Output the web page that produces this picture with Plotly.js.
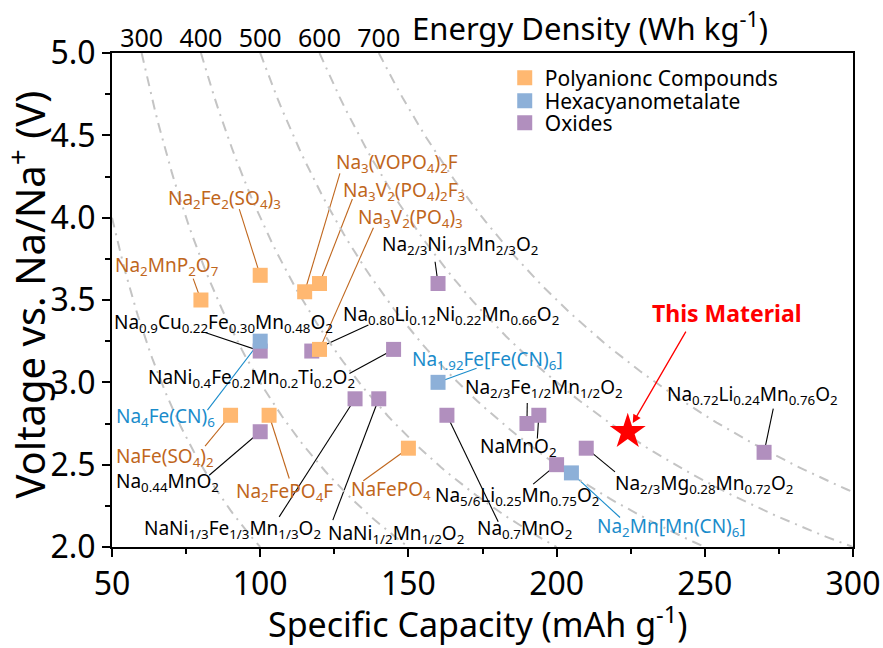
<!DOCTYPE html>
<html>
<head>
<meta charset="utf-8">
<script src="https://cdn.plot.ly/plotly-3.0.1.min.js"></script>
<style>html,body{margin:0;padding:0;background:#fff;}#chart{width:883px;height:648px;}</style>
</head>
<body>
<div id="chart"></div>
<script>
// ---------- data ----------
const energyLevels = [200, 300, 400, 500, 600, 700];           // Wh/kg iso-lines
const energyTickPos = [60, 80, 100, 120, 140];                 // capacity where V = 5.0
const energyTickText = ['300', '400', '500', '600', '700'];

const polyNames = ['Na<sub>2</sub>MnP<sub>2</sub>O<sub>7</sub>', 'Na<sub>2</sub>Fe<sub>2</sub>(SO<sub>4</sub>)<sub>3</sub>',
  'Na<sub>3</sub>(VOPO<sub>4</sub>)<sub>2</sub>F', 'Na<sub>3</sub>V<sub>2</sub>(PO<sub>4</sub>)<sub>2</sub>F<sub>3</sub>',
  'Na<sub>3</sub>V<sub>2</sub>(PO<sub>4</sub>)<sub>3</sub>', 'NaFe(SO<sub>4</sub>)<sub>2</sub>',
  'Na<sub>2</sub>FePO<sub>4</sub>F', 'NaFePO<sub>4</sub>'];
const polyX = [80, 100, 115, 120, 120, 90, 103, 150];
const polyY = [3.5, 3.65, 3.55, 3.6, 3.2, 2.8, 2.8, 2.6];

const hexNames = ['Na<sub>4</sub>Fe(CN)<sub>6</sub>', 'Na<sub>1.92</sub>Fe[Fe(CN)<sub>6</sub>]', 'Na<sub>2</sub>Mn[Mn(CN)<sub>6</sub>]'];
const hexX = [100, 160, 205];
const hexY = [3.25, 3.0, 2.45];

const oxNames = ['Na<sub>2/3</sub>Ni<sub>1/3</sub>Mn<sub>2/3</sub>O<sub>2</sub>',
  'Na<sub>0.9</sub>Cu<sub>0.22</sub>Fe<sub>0.30</sub>Mn<sub>0.48</sub>O<sub>2</sub>',
  'Na<sub>0.80</sub>Li<sub>0.12</sub>Ni<sub>0.22</sub>Mn<sub>0.66</sub>O<sub>2</sub>',
  'NaNi<sub>0.4</sub>Fe<sub>0.2</sub>Mn<sub>0.2</sub>Ti<sub>0.2</sub>O<sub>2</sub>',
  'Na<sub>0.44</sub>MnO<sub>2</sub>',
  'NaNi<sub>1/3</sub>Fe<sub>1/3</sub>Mn<sub>1/3</sub>O<sub>2</sub>',
  'NaNi<sub>1/2</sub>Mn<sub>1/2</sub>O<sub>2</sub>',
  'Na<sub>0.7</sub>MnO<sub>2</sub>',
  'Na<sub>2/3</sub>Fe<sub>1/2</sub>Mn<sub>1/2</sub>O<sub>2</sub>',
  'NaMnO<sub>2</sub>',
  'Na<sub>5/6</sub>Li<sub>0.25</sub>Mn<sub>0.75</sub>O<sub>2</sub>',
  'Na<sub>2/3</sub>Mg<sub>0.28</sub>Mn<sub>0.72</sub>O<sub>2</sub>',
  'Na<sub>0.72</sub>Li<sub>0.24</sub>Mn<sub>0.76</sub>O<sub>2</sub>'];
const oxX = [160, 100, 117.4, 145, 100, 132, 140, 163, 190, 194, 200, 210, 270];
const oxY = [3.6, 3.19, 3.19, 3.2, 2.7, 2.9, 2.9, 2.8, 2.75, 2.8, 2.5, 2.6, 2.575];

const thisX = [224];
const thisY = [2.7];

// ---------- label placement (layout, data units) ----------
const polyLabelX = [68.4, 87.85, 146.05, 148.6, 150.7, 67.9, 108.3, 144.1];
const polyLabelY = [3.706, 4.113, 4.33, 4.163, 3.996, 2.547, 2.335, 2.345];
const polyLeadX  = [77.4, 92.95, 126.9, 131.1, 138.2, 81.4, 109.8, 134.8];
const polyLeadY  = [3.63, 4.052, 4.269, 4.113, 3.939, 2.612, 2.416, 2.402];

const hexLabelX = [68.2, 176.7, 238.7];
const hexLabelY = [2.79, 3.135, 2.122];
const hexLeadX  = [82.2, 173.0, 221.4];
const hexLeadY  = [2.831, 3.085, 2.179];

const oxLabelX = [167.3, 87.45, 164.3, 97.1, 68.6, 90.8, 145.75, 189.1, 195.9, 187.1, 186.8, 249.7, 266.2];
const oxLabelY = [3.834, 3.358, 3.408, 3.024, 2.396, 2.112, 2.082, 2.112, 2.963, 2.608, 2.309, 2.382, 2.922];
const oxLeadX  = [159.0, 81.4, 136.5, 130.1, 82.8, 106.4, 124.5, 180.3, 190.1, 193.5, 192.1, 219.7, 273.1];
const oxLeadY  = [3.732, 3.303, 3.348, 3.054, 2.436, 2.183, 2.163, 2.153, 2.875, 2.659, 2.382, 2.456, 2.841];

const thisLabel = {x: 257.6, y: 3.419, lx: 243.9, ly: 3.317};

// ---------- styles ----------
const FONT = 'Noto Sans, Open Sans, DejaVu Sans, sans-serif';
const C_POLY = '#FFB871', C_HEX = '#8DB0D8', C_OX = '#B18FBE';
const T_POLY = '#C0661C', T_HEX = '#1A8CCB', T_OX = '#000000';
const XMIN = 50, XMAX = 300, YMIN = 2, YMAX = 5;

const traces = [];
// iso energy-density curves V = E / Q
energyLevels.forEach(E => {
  const q0 = Math.max(XMIN, E / YMAX), q1 = Math.min(XMAX, E / YMIN);
  const xs = [], ys = [];
  const n = 80;
  for (let i = 0; i <= n; i++) { const q = q0 + (q1 - q0) * i / n; xs.push(q); ys.push(E / q); }
  traces.push({x: xs, y: ys, type: 'scatter', mode: 'lines', showlegend: false, hoverinfo: 'skip',
    line: {color: '#C4C4C4', width: 2, dash: '10px,6px,2px,6px'}});
});

const mk = (c) => ({symbol: 'square', size: 15, color: c, line: {width: 0}});
traces.push({x: oxX, y: oxY, text: oxNames, type: 'scatter', mode: 'markers', name: 'Oxides', legend: 'legend3', marker: mk(C_OX)});
traces.push({x: polyX, y: polyY, text: polyNames, type: 'scatter', mode: 'markers', name: 'Polyanionc Compounds', legend: 'legend', marker: mk(C_POLY)});
traces.push({x: hexX, y: hexY, text: hexNames, type: 'scatter', mode: 'markers', name: 'Hexacyanometalate', legend: 'legend2', marker: mk(C_HEX)});
traces.push({x: thisX, y: thisY, type: 'scatter', mode: 'markers', name: 'This Material', showlegend: false,
  marker: {symbol: 'star', size: 27, color: '#FF0000', line: {width: 0}}});
// dummy trace for top axis
traces.push({x: [XMIN], y: [YMIN], xaxis: 'x2', type: 'scatter', mode: 'markers', showlegend: false, hoverinfo: 'skip', marker: {opacity: 0}});

const annotations = [], shapes = [];
function addLabels(names, xs, ys, lx, ly, tx, ty, tcol, lcol) {
  names.forEach((nm, i) => {
    annotations.push({x: tx[i], y: ty[i], xref: 'x', yref: 'y', text: nm, showarrow: false,
      xanchor: 'center', yanchor: 'middle', font: {family: FONT, size: 19, color: tcol}});
    shapes.push({type: 'line', xref: 'x', yref: 'y', x0: lx[i], y0: ly[i], x1: xs[i], y1: ys[i],
      line: {color: lcol, width: 1.1}, layer: 'below'});
  });
}
addLabels(polyNames, polyX, polyY, polyLeadX, polyLeadY, polyLabelX, polyLabelY, T_POLY, T_POLY);
addLabels(hexNames, hexX, hexY, hexLeadX, hexLeadY, hexLabelX, hexLabelY, T_HEX, T_HEX);
addLabels(oxNames, oxX, oxY, oxLeadX, oxLeadY, oxLabelX, oxLabelY, T_OX, '#000000');

annotations.push({x: thisLabel.x, y: thisLabel.y, xref: 'x', yref: 'y', text: '<b>This Material</b>', showarrow: false,
  font: {family: FONT, size: 23, color: '#FF0000'}});
annotations.push({x: thisX[0], y: thisY[0], xref: 'x', yref: 'y', ax: thisLabel.lx, ay: thisLabel.ly, axref: 'x', ayref: 'y',
  text: '', showarrow: true, arrowhead: 2, arrowsize: 1.3, arrowwidth: 1.3, arrowcolor: '#FF0000', standoff: 10});
// axis titles
annotations.push({xref: 'paper', yref: 'paper', x: 0.645, y: 1.053, text: 'Energy Density (Wh kg<sup>-1</sup>)', showarrow: false,
  xanchor: 'center', yanchor: 'middle', font: {family: FONT, size: 31, color: '#000'}});
annotations.push({xref: 'paper', yref: 'paper', x: 0.494, y: -0.152, text: 'Specific Capacity (mAh g<sup>-1</sup>)', showarrow: false,
  xanchor: 'center', yanchor: 'middle', font: {family: FONT, size: 34, color: '#000'}});
annotations.push({xref: 'paper', yref: 'paper', x: -0.114, y: 0.51, text: 'Voltage vs. Na/Na<sup>+</sup> (V)', showarrow: false,
  textangle: -90, xanchor: 'center', yanchor: 'middle', font: {family: FONT, size: 40, color: '#000'}});

const legBase = {x: 0.530, xanchor: 'left', yanchor: 'middle', bgcolor: 'rgba(0,0,0,0)',
  font: {family: FONT, size: 21, color: '#000'}, itemwidth: 30};

const layout = {
  width: 883, height: 648,
  margin: {l: 112, r: 30, t: 53, b: 101},
  paper_bgcolor: '#fff', plot_bgcolor: '#fff',
  font: {family: FONT, color: '#000'},
  showlegend: true,
  legend:  Object.assign({}, legBase, {y: 0.9494}),
  legend2: Object.assign({}, legBase, {y: 0.9028}),
  legend3: Object.assign({}, legBase, {y: 0.8583}),
  xaxis: {range: [XMIN, XMAX], showline: true, linecolor: '#000', linewidth: 2, mirror: true,
    ticks: 'outside', ticklen: 8, tickwidth: 2, tickcolor: '#000', dtick: 50, tick0: 50,
    minor: {ticks: 'outside', ticklen: 5, tickwidth: 2, tickcolor: '#000', dtick: 25},
    showgrid: false, zeroline: false, tickfont: {family: FONT, size: 32, color: '#000'}},
  xaxis2: {overlaying: 'x', side: 'top', range: [XMIN, XMAX], tickmode: 'array', tickvals: energyTickPos, ticktext: energyTickText,
    ticks: '', showline: false, showgrid: false, zeroline: false, tickfont: {family: FONT, size: 25, color: '#000'}},
  yaxis: {range: [YMIN, YMAX], showline: true, linecolor: '#000', linewidth: 2, mirror: true,
    ticks: 'outside', ticklen: 8, tickwidth: 2, tickcolor: '#000', dtick: 0.5, tick0: 2, tickformat: '.1f',
    minor: {ticks: 'outside', ticklen: 5, tickwidth: 2, tickcolor: '#000', dtick: 0.25},
    showgrid: false, zeroline: false, tickfont: {family: FONT, size: 32, color: '#000'}},
  annotations: annotations,
  shapes: shapes
};

Plotly.newPlot('chart', traces, layout, {displayModeBar: false, staticPlot: true});
</script>
</body>
</html>
